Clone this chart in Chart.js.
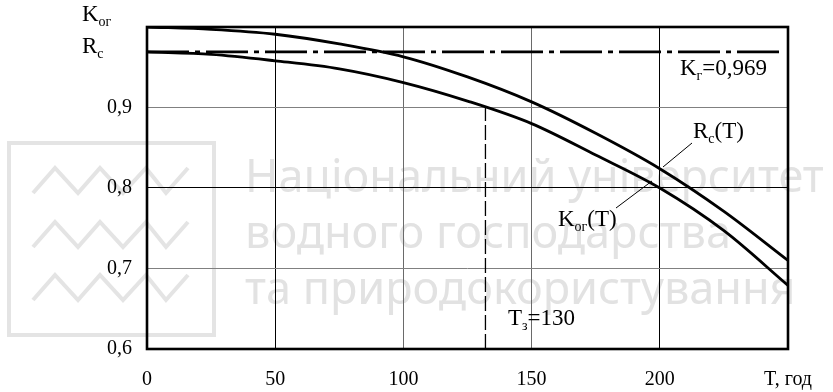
<!DOCTYPE html>
<html lang="uk">
<head>
<meta charset="UTF-8">
<title>Kог(T), Rс(T)</title>
<script src="https://cdn.jsdelivr.net/npm/chart.js"></script>
<style>
  html, body { margin: 0; padding: 0; background: #fff; }
  canvas { display: block; }
</style>
</head>
<body>
<canvas id="chart" width="833" height="392"></canvas>
<script>
// values
const T_POINTS = [0, 25, 50, 75, 100, 125, 150, 175, 200, 225, 250];
const RC_VALUES = [1.000, 0.997, 0.991, 0.979, 0.963, 0.938, 0.907, 0.868, 0.824, 0.771, 0.710];
const KOG_VALUES = [0.969, 0.966, 0.958, 0.948, 0.931, 0.908, 0.880, 0.841, 0.800, 0.747, 0.679];
const KG_T = [0, 247];
const KG_LEVEL = [0.969, 0.969];
const TZ_T = [132, 132];
const TZ_LEVEL = [0.6, 0.9];
const X_TICKS = [0, 50, 100, 150, 200, 250];
const Y_TICKS = [0.6, 0.7, 0.8, 0.9, 1.0];

const SERIF = '"Liberation Serif", "Times New Roman", serif';

function pairs(xs, ys) {
    return xs.map((x, i) => ({ x: x, y: ys[i] }));
}

// text with a lowered small part, like K with "ог" under it
function subText(ctx, x, y, parts, size) {
    ctx.textAlign = 'left';
    ctx.textBaseline = 'alphabetic';
    parts.forEach(([t, sub]) => {
        ctx.font = (sub ? Math.round(size * 0.6) : size) + 'px ' + SERIF;
        ctx.fillText(t, x, sub ? y + size * 0.2 : y);
        x += ctx.measureText(t).width;
    });
}

const decor = {
    id: 'decor',
    beforeDraw(chart) {
        const ctx = chart.ctx;
        ctx.save();
        ctx.fillStyle = '#fff';
        ctx.fillRect(0, 0, chart.width, chart.height);

        // faint watermark
        ctx.strokeStyle = '#e4e4e4';
        ctx.lineWidth = 4;
        ctx.strokeRect(9, 143, 205, 192);
        [168, 222, 275].forEach(top => {
            ctx.beginPath();
            ctx.moveTo(33, top + 25);
            ctx.lineTo(55, top);
            ctx.lineTo(78, top + 25);
            ctx.lineTo(100, top);
            ctx.lineTo(123, top + 25);
            ctx.lineTo(146, top);
            ctx.lineTo(166, top + 25);
            ctx.lineTo(188, top);
            ctx.stroke();
        });
        ctx.fillStyle = '#e2e2e2';
        ctx.font = '40px "Noto Sans", sans-serif';
        const w = ctx.measureText('Національний університет').width;
        ctx.font = Math.round(40 * 585 / w) + 'px "Noto Sans", sans-serif';
        ctx.textBaseline = 'alphabetic';
        ctx.fillText('Національний університет', 245, 192);
        ctx.fillText('водного господарства', 245, 248);
        ctx.fillText('та природокористування', 245, 304);
        ctx.restore();
    },
    afterDraw(chart) {
        const ctx = chart.ctx;
        const a = chart.chartArea;
        ctx.save();
        ctx.strokeStyle = '#000';
        ctx.lineWidth = 2.6;
        ctx.strokeRect(a.left, a.top, a.right - a.left, a.bottom - a.top);

        ctx.fillStyle = '#000';
        subText(ctx, 82, 21, [['K', 0], ['ог', 1]], 23);
        subText(ctx, 82, 53, [['R', 0], ['с', 1]], 23);
        subText(ctx, 680, 75, [['K', 0], ['г', 1], ['=0,969', 0]], 23);
        subText(ctx, 693, 138, [['R', 0], ['с', 1], ['(T)', 0]], 23);
        subText(ctx, 558, 226, [['K', 0], ['ог', 1], ['(T)', 0]], 23);
        subText(ctx, 508, 325, [['T', 0], ['з', 1], ['=130', 0]], 23);

        // leader lines to the curves
        ctx.lineWidth = 1;
        ctx.beginPath();
        ctx.moveTo(692, 143);
        ctx.lineTo(663, 167);
        ctx.moveTo(616, 208);
        ctx.lineTo(652, 181);
        ctx.stroke();
        ctx.restore();
    }
};

const curve = {
    borderColor: '#000',
    borderWidth: 2.8,
    pointRadius: 0,
    fill: false,
    cubicInterpolationMode: 'monotone'
};

new Chart(document.getElementById('chart'), {
    type: 'line',
    data: {
        datasets: [
            Object.assign({ label: 'Rс(T)', data: pairs(T_POINTS, RC_VALUES) }, curve),
            Object.assign({ label: 'Kог(T)', data: pairs(T_POINTS, KOG_VALUES) }, curve),
            {
                label: 'Kг',
                data: pairs(KG_T, KG_LEVEL),
                borderColor: '#000',
                borderWidth: 2.8,
                borderDash: [42, 6, 5, 6],
                pointRadius: 0
            },
            {
                label: 'Tз',
                data: pairs(TZ_T, TZ_LEVEL),
                borderColor: '#000',
                borderWidth: 1.3,
                borderDash: [15, 4],
                pointRadius: 0
            }
        ]
    },
    options: {
        responsive: false,
        animation: false,
        layout: { padding: { top: 23, right: 45, left: 0, bottom: 0 } },
        plugins: {
            legend: { display: false },
            tooltip: { enabled: false }
        },
        scales: {
            x: {
                type: 'linear',
                min: 0,
                max: 250,
                afterBuildTicks: s => { s.ticks = X_TICKS.map(v => ({ value: v })); },
                afterFit: s => { s.height = 43; },
                border: { display: false },
                grid: {
                    drawTicks: false,
                    lineWidth: 1,
                    color: c => (c.tick && (c.tick.value === 100 || c.tick.value === 150)) ? '#6a6a6a' : '#000'
                },
                ticks: {
                    padding: 19,
                    color: '#000',
                    font: { family: SERIF, size: 20 },
                    maxRotation: 0,
                    callback: v => v === 250 ? 'T, год' : String(v)
                }
            },
            y: {
                min: 0.6,
                max: 1.0,
                afterBuildTicks: s => { s.ticks = Y_TICKS.map(v => ({ value: v })); },
                afterFit: s => { s.width = 147; },
                border: { display: false },
                grid: {
                    drawTicks: false,
                    lineWidth: 1,
                    color: c => (c.tick && Math.abs(c.tick.value - 0.8) < 1e-6) ? '#000' : '#808080'
                },
                ticks: {
                    padding: 15,
                    color: '#000',
                    font: { family: SERIF, size: 20 },
                    callback: v => Math.abs(v - 1) < 1e-6 ? '' : v.toFixed(1).replace('.', ',')
                }
            }
        }
    },
    plugins: [decor]
});
</script>
</body>
</html>
